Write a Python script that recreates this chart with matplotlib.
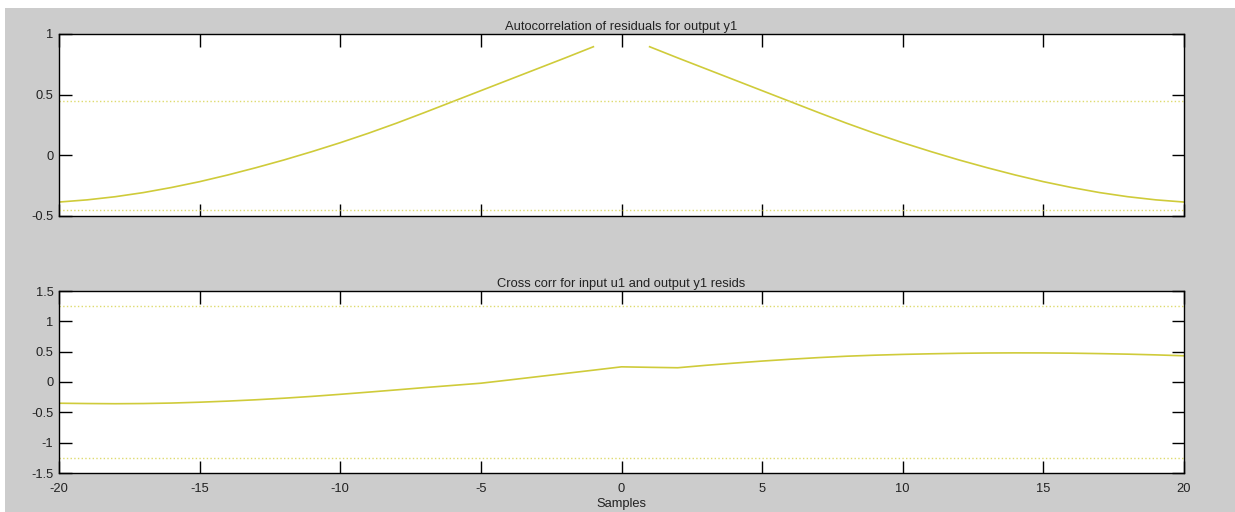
import numpy as np
import matplotlib.pyplot as plt
from matplotlib.patches import Rectangle

# lags and residual correlations
lags_neg = list(range(-20, 0))
auto_neg = [-0.385, -0.367, -0.341, -0.307, -0.265, -0.217, -0.162, -0.102, -0.038, 0.031,
            0.104, 0.182, 0.265, 0.353, 0.443, 0.533, 0.623, 0.713, 0.803, 0.895]
lags_pos = list(range(1, 21))
auto_pos = auto_neg[::-1]
auto_conf = 0.45

lags_all = list(range(-20, 21))
cross = [-0.35, -0.355, -0.358, -0.355, -0.347, -0.333, -0.315, -0.293, -0.267, -0.237,
         -0.203, -0.167, -0.13, -0.092, -0.056, -0.02, 0.033, 0.087, 0.141, 0.195,
         0.25, 0.242, 0.235, 0.275, 0.311, 0.345, 0.375, 0.402, 0.425, 0.442,
         0.455, 0.465, 0.473, 0.478, 0.48, 0.479, 0.475, 0.468, 0.459, 0.447, 0.432]
cross_conf = 1.25

line_col = '#cfcb3a'
conf_col = '#dedb6e'

plt.rcParams['font.family'] = ['Liberation Sans', 'DejaVu Sans']
plt.rcParams['font.size'] = 9.3

fig = plt.figure(figsize=(12.35, 5.12), dpi=100, facecolor='white')
W, H = 1235.0, 512.0
fig.patches.append(Rectangle((5 / W, 0), 1 - 5 / W, (H - 8) / H, transform=fig.transFigure,
                             facecolor='#cccccc', edgecolor='none', zorder=-10))

def px_axes(x0, y0, x1, y1):
    return fig.add_axes([x0 / W, 1 - y1 / H, (x1 - x0) / W, (y1 - y0) / H])

ax1 = px_axes(59, 34, 1184, 216)
ax2 = px_axes(59, 291, 1184, 473)

ax1.plot(lags_neg, auto_neg, color=line_col, lw=1.2)
ax1.plot(lags_pos, auto_pos, color=line_col, lw=1.2)
ax1.axhline(auto_conf, color=conf_col, ls=':', lw=1)
ax1.axhline(-auto_conf, color=conf_col, ls=':', lw=1)
ax1.set_ylim(-0.5, 1)
ax1.set_yticks([-0.5, 0, 0.5, 1])
ax1.set_yticklabels(['-0.5', '0', '0.5', '1'])
ax1.set_title('Autocorrelation of residuals for output y1', fontsize=9.3, pad=3, color='#222222')

ax2.plot(lags_all, cross, color=line_col, lw=1.2)
ax2.axhline(cross_conf, color=conf_col, ls=':', lw=1)
ax2.axhline(-cross_conf, color=conf_col, ls=':', lw=1)
ax2.set_ylim(-1.5, 1.5)
ax2.set_yticks([-1.5, -1, -0.5, 0, 0.5, 1, 1.5])
ax2.set_yticklabels(['-1.5', '-1', '-0.5', '0', '0.5', '1', '1.5'])
ax2.set_title('Cross corr for input u1 and output y1 resids', fontsize=9.3, pad=3, color='#222222')
ax2.set_xlabel('Samples', labelpad=2, color='#222222')

for ax in (ax1, ax2):
    ax.set_xlim(-20, 20)
    ax.set_xticks(np.arange(-20, 21, 5))
    ax.tick_params(direction='in', length=9, width=1, top=True, right=True,
                   labelsize=9.3, labelcolor='#222222', pad=4)
    ax.tick_params(axis='x', pad=7)
    for s in ax.spines.values():
        s.set_linewidth(1)
ax1.tick_params(labelbottom=False)
ax2.set_xticklabels([str(v) for v in range(-20, 21, 5)])

fig.savefig('out.png', dpi=100, facecolor=fig.get_facecolor())
